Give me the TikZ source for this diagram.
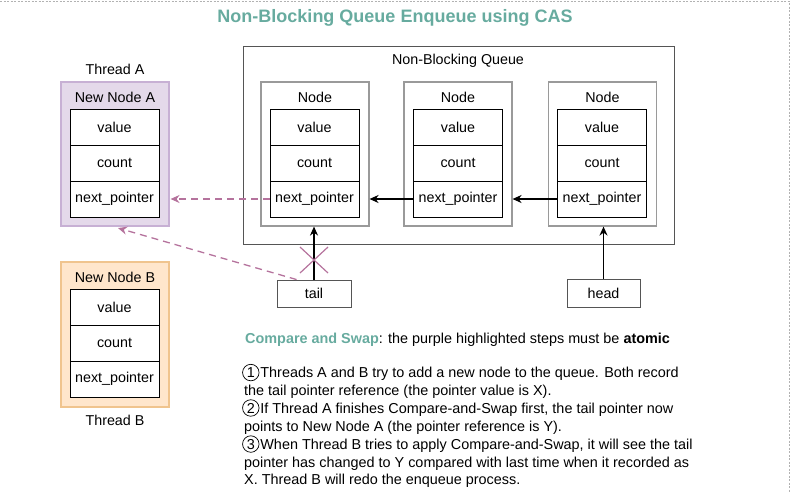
\documentclass[tikz,border=0pt]{standalone}
\usepackage{fontspec}
\setmainfont{Liberation Sans}
\usetikzlibrary{arrows.meta}
\definecolor{teal1}{HTML}{67AB9F}
\definecolor{casp}{HTML}{B5739D}
\definecolor{afill}{HTML}{E4D9EA}
\definecolor{adraw}{HTML}{C7B0D4}
\definecolor{bfill}{HTML}{FFE6CC}
\definecolor{bdraw}{HTML}{F0C48E}
\definecolor{gbox}{HTML}{9A9A9A}
\definecolor{qbox}{HTML}{555555}
\newcommand{\circnum}[1]{\tikz[baseline=(cn.base)]\node[circle, draw=black, line width=0.7pt, minimum size=16.5pt, inner sep=0pt, font=\fontsize{14.4}{16}\selectfont] (cn) {#1};\hspace{1pt}}
\tikzset{
  txt/.style={font=\fontsize{14.3}{16}\selectfont, inner sep=0pt},
  field/.style={draw=black, line width=0.9pt, minimum width=89pt, minimum height=36pt, inner sep=0pt, font=\fontsize{14.3}{16}\selectfont},
  holder/.style={draw=gbox, line width=1.1pt, minimum width=108pt, minimum height=144pt, inner sep=0pt},
  ptrbox/.style={draw=qbox, line width=0.9pt, minimum width=74pt, minimum height=27pt, inner sep=0pt, font=\fontsize{14.3}{16}\selectfont},
  solidarrow/.style={line width=1.6pt, -{Stealth[length=9pt,width=8pt]}},
  casarrow/.style={draw=casp, line width=1.3pt, dash pattern=on 7pt off 5pt, -{Stealth[length=9pt,width=8pt]}},
  bodyline/.style={anchor=base west, inner sep=0pt, font=\fontsize{14.4}{16}\selectfont}
}
\begin{document}
\begin{tikzpicture}[x=1pt,y=-1pt]
\useasboundingbox (0,0) rectangle (791,493);
% page border
\draw[gray!60, line width=0.6pt, dash pattern=on 2pt off 1.5pt] (0,1) -- (789,1) -- (789,493);
% title
\node[font=\fontsize{18}{20}\selectfont\bfseries, text=teal1, inner sep=0pt] (title) at (395,18) {Non-Blocking Queue Enqueue using CAS};

% queue container
\node[draw=qbox, line width=0.9pt, minimum width=431pt, minimum height=198pt, inner sep=0pt] (queue) at (458.5,145) {};
\node[txt] (qlabel) at (458,61) {Non-Blocking Queue};

% node holders
\node[holder] (n1) at (315,154) {};
\node[holder] (n2) at (458,154) {};
\node[holder] (n3) at (602.5,154) {};
\node[txt] (n1l) at (315,97) {Node};
\node[txt] (n2l) at (458,97) {Node};
\node[txt] (n3l) at (602.5,97) {Node};

\node[field] (f1v) at (314.5,127) {value};
\node[field] (f1c) at (314.5,163) {count};
\node[field] (f1n) at (314.5,199) {next\_pointer};
\node[field] (f2v) at (458,127) {value};
\node[field] (f2c) at (458,163) {count};
\node[field] (f2n) at (458,199) {next\_pointer};
\node[field] (f3v) at (602,127) {value};
\node[field] (f3c) at (602,163) {count};
\node[field] (f3n) at (602,199) {next\_pointer};

% new node A
\node[holder, draw=adraw, fill=afill] (nA) at (115,154) {};
\node[txt] (nAl) at (115,97) {New Node A};
\node[txt] (thA) at (115,69) {Thread A};
\node[field, fill=white] (fAv) at (114.5,127) {value};
\node[field, fill=white] (fAc) at (114.5,163) {count};
\node[field, fill=white] (fAn) at (114.5,199) {next\_pointer};

% new node B
\node[holder, draw=bdraw, fill=bfill, minimum height=145pt] (nB) at (115,334.5) {};
\node[txt] (nBl) at (115,277) {New Node B};
\node[txt] (thB) at (115,420) {Thread B};
\node[field, fill=white] (fBv) at (114.5,307) {value};
\node[field, fill=white] (fBc) at (114.5,343) {count};
\node[field, fill=white] (fBn) at (114.5,379) {next\_pointer};

% tail and head
\node[ptrbox] (tail) at (314,293.5) {tail};
\node[ptrbox, minimum width=73pt, minimum height=28pt] (head) at (603.5,293) {head};

% solid arrows
\draw[solidarrow] (tail.north) -- (tail.north |- n1.south);
\draw[solidarrow] (head.north) -- (head.north |- n3.south);
\draw[solidarrow] (f2n.west) -- (f2n.west -| n1.east);
\draw[solidarrow] (f3n.west) -- (f3n.west -| n2.east);

% CAS dashed arrows
\draw[casarrow] (f1n.west) -- ([xshift=1pt]f1n.west -| nA.east);
\draw[casarrow] ([xshift=20pt]tail.north west) -- ([xshift=3pt,yshift=-1.5pt]nA.south);

% cross
\coordinate (xc) at (314,260);
\draw[casp, line width=1.2pt] ([shift={(-14,-13)}]xc) -- ([shift={(14,13)}]xc);
\draw[casp, line width=1.2pt] ([shift={(-14,13)}]xc) -- ([shift={(14,-13)}]xc);

% text block
\node[bodyline] (cas) at (245,343) {\textcolor{teal1}{\bfseries Compare and Swap}: the purple highlighted steps must be \textbf{atomic}};
\node[bodyline] (l1) at (242,377.5) {\circnum{1}Threads A and B try to add a new node to the queue. Both record};
\node[bodyline] (l2) at (244,395) {the tail pointer reference (the pointer value is X).};
\node[bodyline] (l3) at (242,413) {\circnum{2}If Thread A finishes Compare-and-Swap first, the tail pointer now};
\node[bodyline] (l4) at (244,431) {points to New Node A (the pointer reference is Y).};
\node[bodyline] (l5) at (242,449) {\circnum{3}When Thread B tries to apply Compare-and-Swap, it will see the tail};
\node[bodyline] (l6) at (244,467) {pointer has changed to Y compared with last time when it recorded as};
\node[bodyline] (l7) at (244,484) {X. Thread B will redo the enqueue process.};
\end{tikzpicture}
\end{document}
